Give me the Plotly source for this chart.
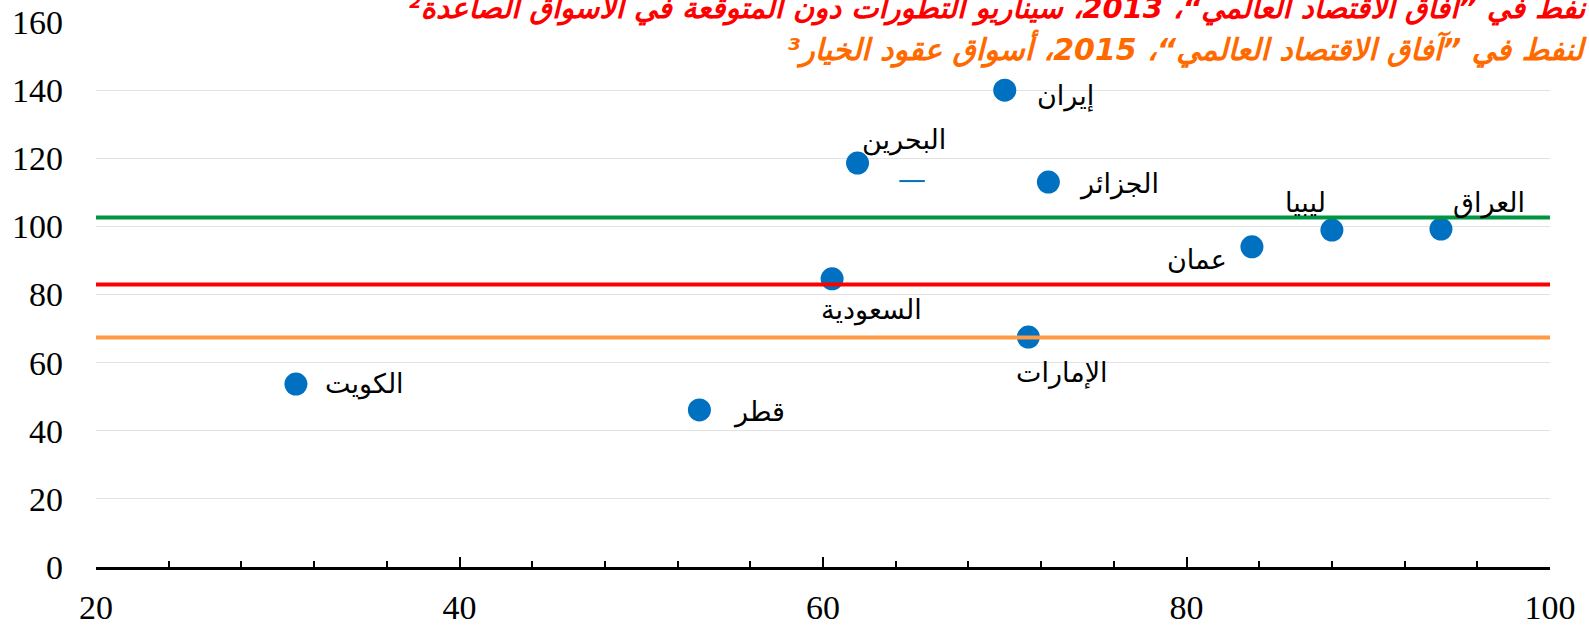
import plotly.graph_objects as go

# countries: breakeven oil price (y) vs x-value
countries = ["الكويت", "قطر", "السعودية", "البحرين", "إيران", "الإمارات", "الجزائر", "عمان", "ليبيا", "العراق"]
x_vals = [31.0, 53.2, 60.5, 61.9, 70.0, 71.3, 72.4, 83.6, 88.0, 94.0]
y_vals = [53.7, 46.1, 84.6, 118.6, 140.0, 67.5, 113.0, 94.0, 98.9, 99.2]

# reference oil price lines
ref_names = ["WEO 2013", "WEO 2013 downside", "WEO 2015 options"]
ref_values = [102.6, 82.9, 67.4]
ref_colors = ["#00963F", "#FF0000", "#FF9A45"]

# leftover short segment in the source chart
stray_x = [64.2, 65.6]
stray_y = [113.3, 113.3]

x_ticks = [20, 40, 60, 80, 100]
y_ticks = [0, 20, 40, 60, 80, 100, 120, 140, 160]

title_line1 = "نفط في ”آفاق الاقتصاد العالمي“، 2013، سيناريو التطورات دون المتوقعة في الأسواق الصاعدة²"
title_line2 = "لنفط في ”آفاق الاقتصاد العالمي“، 2015، أسواق عقود الخيار³"

# label placement (pixel offsets from the point)
label_pos = {
    "الكويت": ("left", 27, 0),
    "قطر": ("left", 32, -2),
    "السعودية": ("center", 39, -31),
    "البحرين": ("center", 46, 23),
    "إيران": ("left", 30, -6),
    "الإمارات": ("center", 34, -36),
    "الجزائر": ("left", 29, -2),
    "عمان": ("right", -23, -13),
    "ليبيا": ("center", -26, 28),
    "العراق": ("center", 48, 26),
}

fig = go.Figure()

fig.add_trace(go.Scatter(
    x=x_vals, y=y_vals, mode="markers",
    marker=dict(color="#0070C0", size=23),
    hovertext=countries, hoverinfo="text+x+y",
    showlegend=False,
))

fig.add_trace(go.Scatter(
    x=stray_x, y=stray_y, mode="lines",
    line=dict(color="#0070C0", width=2),
    hoverinfo="skip", showlegend=False,
))

for val, col in zip(ref_values, ref_colors):
    fig.add_hline(y=val, line=dict(color=col, width=4), layer="above")

annotations = []
for name, xv, yv in zip(countries, x_vals, y_vals):
    anchor, dx, dy = label_pos[name]
    annotations.append(dict(
        x=xv, y=yv, xref="x", yref="y", text=name, showarrow=False,
        xanchor=anchor, yanchor="middle", xshift=dx, yshift=dy,
        font=dict(family="DejaVu Sans", size=27, color="black"),
    ))

annotations.append(dict(
    x=1.0265, y=1.026, xref="paper", yref="paper", text="<b><i>" + title_line1 + "</i></b>",
    showarrow=False, xanchor="right", yanchor="middle",
    font=dict(family="DejaVu Sans", size=29, color="#FF0000"),
))
annotations.append(dict(
    x=1.0265, y=0.9505, xref="paper", yref="paper", text="<b><i>" + title_line2 + "</i></b>",
    showarrow=False, xanchor="right", yanchor="middle",
    font=dict(family="DejaVu Sans", size=30, color="#FF6A00"),
))

fig.update_layout(
    width=1589, height=628,
    margin=dict(l=96, r=39, t=22, b=61),
    paper_bgcolor="white", plot_bgcolor="white",
    font=dict(family="Liberation Serif", size=34, color="black"),
    annotations=annotations,
    xaxis=dict(
        range=[20, 100], tickvals=x_ticks, showgrid=False, zeroline=False, automargin=False,
        showline=True, linecolor="black", linewidth=3,
        ticks="inside", ticklen=10, tickwidth=2, tickcolor="black",
        minor=dict(dtick=4, ticks="inside", ticklen=6, tickwidth=2, tickcolor="black"),
        ticklabelstandoff=8,
        tickfont=dict(family="Liberation Serif", size=34),
    ),
    yaxis=dict(
        range=[0, 160], tickvals=y_ticks, showgrid=True, gridcolor="#E3E3E3", gridwidth=1,
        zeroline=False, showline=False, ticks="", automargin=False,
        ticklabelstandoff=32,
        tickfont=dict(family="Liberation Serif", size=34),
    ),
)

# drop the default page margin so the figure fills the window
fig.write_html("out.html", config={"displayModeBar": False},
               post_script="document.body.style.margin='0px';")
